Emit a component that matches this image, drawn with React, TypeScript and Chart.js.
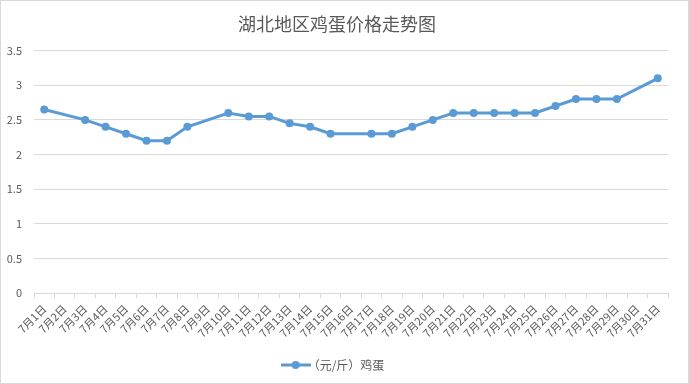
import React, { useEffect, useRef } from "react";
import { Chart, registerables } from "chart.js";

Chart.register(...registerables);

const categories: string[] = [
  "7月1日", "7月2日", "7月3日", "7月4日", "7月5日", "7月6日", "7月7日", "7月8日",
  "7月9日", "7月10日", "7月11日", "7月12日", "7月13日", "7月14日", "7月15日", "7月16日",
  "7月17日", "7月18日", "7月19日", "7月20日", "7月21日", "7月22日", "7月23日", "7月24日",
  "7月25日", "7月26日", "7月27日", "7月28日", "7月29日", "7月30日", "7月31日",
];

const eggPrice: (number | null)[] = [
  2.65, null, 2.5, 2.4, 2.3, 2.2, 2.2, 2.4,
  null, 2.6, 2.55, 2.55, 2.45, 2.4, 2.3, null,
  2.3, 2.3, 2.4, 2.5, 2.6, 2.6, 2.6, 2.6,
  2.6, 2.7, 2.8, 2.8, 2.8, null, 3.1,
];

const seriesLabel = "（元/斤）鸡蛋";
const titleText = "湖北地区鸡蛋价格走势图";

const LINE = "#5b9bd5";
const TEXT = "#595959";
const GRID = "#d9d9d9";
const FONT = "'Noto Sans CJK SC', 'Noto Sans', sans-serif";

function legendIcon(): HTMLCanvasElement {
  const c = document.createElement("canvas");
  c.width = 30;
  c.height = 10;
  const ctx = c.getContext("2d")!;
  ctx.strokeStyle = LINE;
  ctx.lineWidth = 3;
  ctx.beginPath();
  ctx.moveTo(0, 5);
  ctx.lineTo(30, 5);
  ctx.stroke();
  ctx.fillStyle = LINE;
  ctx.beginPath();
  ctx.arc(15, 5, 4, 0, Math.PI * 2);
  ctx.fill();
  return c;
}

export default function App() {
  const ref = useRef<HTMLCanvasElement | null>(null);

  useEffect(() => {
    document.body.style.margin = "0";
    if (!ref.current) return;
    const chart = new Chart(ref.current, {
      type: "line",
      data: {
        labels: categories,
        datasets: [
          {
            label: seriesLabel,
            data: eggPrice,
            borderColor: LINE,
            backgroundColor: LINE,
            borderWidth: 3,
            pointRadius: 4,
            pointBackgroundColor: LINE,
            pointBorderColor: LINE,
            pointBorderWidth: 0,
            spanGaps: true,
            tension: 0,
          },
        ],
      },
      options: {
        responsive: false,
        animation: false,
        maintainAspectRatio: false,
        layout: { padding: { left: 5, right: 20, top: 4, bottom: 2 } },
        plugins: {
          title: {
            display: true,
            text: titleText,
            color: TEXT,
            font: { family: FONT, size: 18, weight: "normal" },
            padding: { top: 8, bottom: 16 },
          },
          legend: {
            position: "bottom",
            labels: {
              usePointStyle: true,
              pointStyle: legendIcon() as any,
              color: TEXT,
              font: { family: FONT, size: 12 },
              padding: 15,
            },
          },
          tooltip: { enabled: false },
        },
        scales: {
          x: {
            offset: true,
            afterFit: (scale: any) => {
              scale.paddingLeft = 0;
              scale.paddingRight = 0;
            },
            grid: {
              offset: true,
              drawOnChartArea: false,
              drawTicks: true,
              tickLength: 5,
              color: GRID,
            },
            border: { color: GRID, width: 1 },
            ticks: {
              autoSkip: false,
              maxRotation: 45,
              minRotation: 45,
              color: TEXT,
              font: { family: FONT, size: 11 },
              padding: 4,
            },
          },
          y: {
            min: 0,
            max: 3.5,
            afterFit: (scale: any) => {
              scale.width = 28;
            },
            ticks: {
              stepSize: 0.5,
              color: TEXT,
              font: { family: FONT, size: 11 },
              padding: 12,
              callback: (v: any) => String(v),
            },
            grid: { color: GRID, drawTicks: false },
            border: { display: false },
          },
        },
      },
    });
    return () => chart.destroy();
  }, []);

  return (
    <div
      style={{
        position: "absolute",
        left: 0,
        top: 0,
        width: 689,
        height: 384,
        boxSizing: "border-box",
        border: `1px solid ${GRID}`,
        background: "#fff",
      }}
    >
      <canvas ref={ref} width={687} height={382} style={{ display: "block" }} />
    </div>
  );
}
